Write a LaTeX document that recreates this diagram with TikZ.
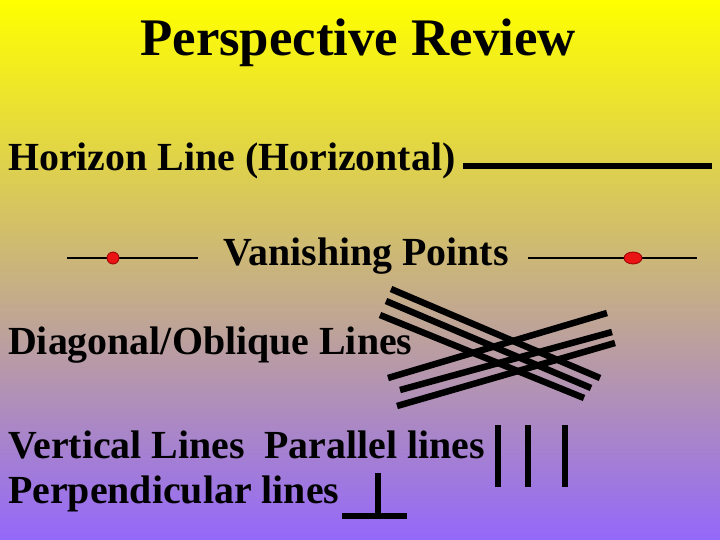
\documentclass[tikz,border=0pt]{standalone}
\usepackage{fontspec}
\setmainfont{Liberation Serif}
\definecolor{topY}{RGB}{255,255,0}
\definecolor{midB}{RGB}{218,204,170}
\definecolor{botP}{RGB}{148,104,250}
\definecolor{vpred}{RGB}{235,20,20}
\definecolor{vpedge}{RGB}{150,0,0}
\tikzset{
  body/.style={anchor=base west, inner sep=0pt, font=\fontsize{40}{44}\selectfont\bfseries},
  thick line/.style={line width=6.5bp, line cap=butt},
  thin line/.style={line width=1.2bp},
  vp/.style={fill=vpred, draw=vpedge, line width=0.8bp}
}
\begin{document}
\begin{tikzpicture}[x=1bp,y=-1bp]
\shade[top color=topY, middle color=midB, bottom color=botP] (0,0) rectangle (720,540);
\useasboundingbox (0,0) rectangle (720,540);
% title
\node[anchor=base, inner sep=0pt, font=\fontsize{53}{58}\selectfont\bfseries] (title) at (358,56) {Perspective Review};
% horizon
\node[body] (hor) at (8,171) {Horizon Line (Horizontal)};
\coordinate (h1) at (463,166); \coordinate (h2) at (712,166);
\draw[thick line] (h1) -- (h2);
% vanishing points
\node[body] (vpt) at (223,266) {Vanishing Points};
\coordinate (l1) at (67,258); \coordinate (l2) at (198,258);
\coordinate (r1) at (528,258); \coordinate (r2) at (697,258);
\draw[thin line] (l1) -- (l2);
\draw[thin line] (r1) -- (r2);
\fill[vp] (113,258) circle (6);
\fill[vp] (633,258) ellipse (9 and 6);
% diagonal
\node[body] (diag) at (8,354) {Diagonal/Oblique Lines};
\draw[thick line] (391,289) -- (600,378);
\draw[thick line] (386,301) -- (591,388);
\draw[thick line] (380,315) -- (584,398);
\draw[thick line] (388,378) -- (607,313);
\draw[thick line] (400,390) -- (612,332);
\draw[thick line] (397,406) -- (615,343);
% vertical / parallel
\node[body] (vert) at (8,458) {Vertical Lines\ \ Parallel lines};
\draw[thick line] (498,425) -- (498,487);
\draw[thick line] (528,425) -- (528,487);
\draw[thick line] (565,425) -- (565,487);
% perpendicular
\node[body] (perp) at (8,503) {Perpendicular lines};
\draw[thick line] (378,473) -- (378,516);
\draw[thick line] (342,516) -- (407,516);
\end{tikzpicture}
\end{document}
